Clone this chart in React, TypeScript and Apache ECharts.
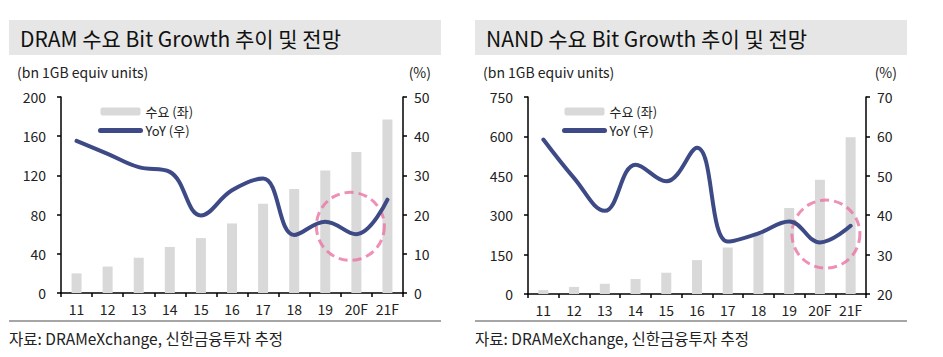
import React, { useEffect, useRef } from "react";
import * as echarts from "echarts";

const categories = ["11", "12", "13", "14", "15", "16", "17", "18", "19", "20F", "21F"];
const dramDemand = [20, 27, 36, 47, 56, 71, 91, 106, 125, 144, 177];
const dramYoY = [38.8, 35.5, 32.1, 30.9, 19.8, 26.2, 29.2, 14.8, 18.2, 15.0, 23.8];
const nandDemand = [15, 27, 39, 57, 81, 129, 177, 232, 327, 435, 597];
const nandYoY = [59.2, 49.4, 41.1, 52.8, 48.6, 57.1, 33.3, 35.4, 38.4, 33.1, 37.3];
const dramLeftTicks = { min: 0, max: 200, interval: 40 };
const dramRightTicks = { min: 0, max: 50, interval: 10 };
const nandLeftTicks = { min: 0, max: 750, interval: 150 };
const nandRightTicks = { min: 20, max: 70, interval: 10 };
const dramHighlight = { category: "20F", value: 17.0 };
const nandHighlight = { category: "20F", value: 35.2 };

const FONT = "'Noto Sans CJK KR', 'Noto Sans', sans-serif";
const BAR = "#D9D9D9";
const LINE = "#3D4A86";
const PINK = "#EC73A3";

export default function App() {
  const ref = useRef<HTMLDivElement>(null);
  useEffect(() => {
    document.body.style.margin = "0";
    const chart = echarts.init(ref.current!, null, { renderer: "svg" });

    const xAxisBase = (gridIndex: number) => ({
      type: "category",
      gridIndex,
      data: categories,
      boundaryGap: true,
      axisLine: { lineStyle: { color: "#000", width: 1.5 } },
      axisTick: { show: true, length: 4, inside: false, alignWithLabel: false, lineStyle: { color: "#000", width: 1.5 } },
      axisLabel: { color: "#222", fontSize: 14, fontFamily: FONT, margin: 9 },
    });
    const yAxisBase = (gridIndex: number, pos: "left" | "right", t: any) => ({
      type: "value",
      gridIndex,
      position: pos,
      min: t.min,
      max: t.max,
      interval: t.interval,
      splitLine: { show: false },
      axisLine: { show: true, lineStyle: { color: "#000", width: 1.5 } },
      axisTick: { show: true, length: 4, lineStyle: { color: "#000", width: 1.5 } },
      axisLabel: { color: "#222", fontSize: 14, fontFamily: FONT, margin: pos === "left" ? 15 : 11 },
    });

    const lineSeries = (name: string, xi: number, yi: number, data: number[]) => ({
      name,
      type: "line",
      xAxisIndex: xi,
      yAxisIndex: yi,
      data,
      smooth: 0.4,
      symbol: "none",
      lineStyle: { color: LINE, width: 4, cap: "round" },
      itemStyle: { color: LINE },
      z: 4,
    });
    const barSeries = (name: string, xi: number, yi: number, data: number[]) => ({
      name,
      type: "bar",
      xAxisIndex: xi,
      yAxisIndex: yi,
      data,
      barWidth: 10,
      itemStyle: { color: BAR },
      z: 2,
    });
    const circleSeries = (xi: number, yi: number, h: any, offset: number) => ({
      name: "highlight",
      type: "scatter",
      xAxisIndex: xi,
      yAxisIndex: yi,
      data: [[h.category, h.value]],
      symbol: "circle",
      symbolSize: 68,
      symbolOffset: [offset, 0],
      silent: true,
      itemStyle: { color: "rgba(0,0,0,0)", borderColor: PINK, borderWidth: 3, borderType: [9, 5] },
      z: 3,
    });

    const legendBase = (left: number) => ({
      left,
      top: 100,
      orient: "vertical",
      itemWidth: 40,
      itemHeight: 8,
      itemGap: 6,
      textStyle: { color: "#222", fontSize: 13, lineHeight: 13, fontFamily: FONT },
      selectedMode: false,
    });
    const legendData = (bar: string, line: string) => [
      { name: bar },
      { name: line, itemStyle: { opacity: 0 }, lineStyle: { width: 5, cap: "round", color: LINE } },
    ];

    const texts: any[] = [];
    const panel = (x0: number, x1: number, title: string, unitRightX: number) => {
      texts.push(
        { type: "rect", shape: { x: x0, y: 20, width: x1 - x0, height: 35 }, style: { fill: "#E6E6E6" }, silent: true },
        { type: "text", x: x0 + 11, y: 38, style: { text: title, fill: "#111", font: `21px ${FONT}`, textVerticalAlign: "middle" } },
        { type: "text", x: x0 + 8, y: 72, style: { text: "(bn 1GB equiv units)", fill: "#222", font: `14px ${FONT}`, textVerticalAlign: "middle" } },
        { type: "text", x: unitRightX, y: 72, style: { text: "(%)", fill: "#222", font: `14px ${FONT}`, textAlign: "right", textVerticalAlign: "middle" } },
        { type: "line", shape: { x1: x0, y1: 321, x2: x1, y2: 321 }, style: { stroke: "#A6A6A6", lineWidth: 2 } },
        { type: "text", x: x0, y: 338, style: { text: "자료: DRAMeXchange, 신한금융투자 추정", fill: "#222", font: `15.5px ${FONT}`, textVerticalAlign: "middle" } }
      );
    };
    panel(9, 441, "DRAM 수요 Bit Growth 추이 및 전망", 431);
    panel(475, 907, "NAND 수요 Bit Growth 추이 및 전망", 897);

    chart.setOption({
      animation: false,
      textStyle: { fontFamily: FONT },
      grid: [
        { left: 61, right: 540, top: 97, bottom: 64 },
        { left: 528, right: 77, top: 97, bottom: 63 },
      ],
      xAxis: [xAxisBase(0), xAxisBase(1)],
      yAxis: [
        yAxisBase(0, "left", dramLeftTicks),
        yAxisBase(0, "right", dramRightTicks),
        yAxisBase(1, "left", nandLeftTicks),
        yAxisBase(1, "right", nandRightTicks),
      ],
      legend: [
        { ...legendBase(93), data: legendData("수요 (좌)", "YoY (우)") },
        { ...legendBase(557), data: legendData("수요 (좌) ", "YoY (우) ") },
      ],
      series: [
        barSeries("수요 (좌)", 0, 0, dramDemand),
        lineSeries("YoY (우)", 0, 1, dramYoY),
        circleSeries(0, 1, dramHighlight, -6),
        barSeries("수요 (좌) ", 1, 2, nandDemand),
        lineSeries("YoY (우) ", 1, 3, nandYoY),
        circleSeries(1, 3, nandHighlight, 6),
      ],
      graphic: texts,
    });
    return () => chart.dispose();
  }, []);
  return <div ref={ref} style={{ width: 943, height: 357 }} />;
}
